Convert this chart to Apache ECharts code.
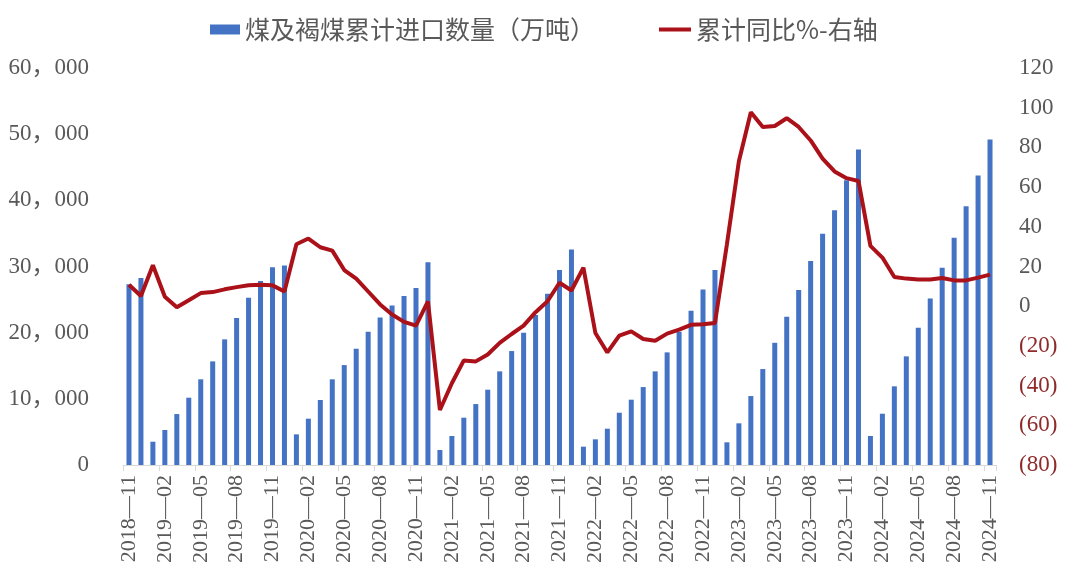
<!DOCTYPE html>
<html>
<head>
<meta charset="utf-8">
<script src="https://cdn.jsdelivr.net/npm/echarts@6/dist/echarts.min.js"></script>
<style>
  html, body { margin: 0; padding: 0; background: #fff; }
  #chart { width: 1080px; height: 581px; }
</style>
</head>
<body>
<div id="chart"></div>
<script>
// 月份
const months = [
  '2018-11', '2018-12',
  '2019-01', '2019-02', '2019-03', '2019-04', '2019-05', '2019-06', '2019-07', '2019-08', '2019-09', '2019-10', '2019-11', '2019-12',
  '2020-01', '2020-02', '2020-03', '2020-04', '2020-05', '2020-06', '2020-07', '2020-08', '2020-09', '2020-10', '2020-11', '2020-12',
  '2021-01', '2021-02', '2021-03', '2021-04', '2021-05', '2021-06', '2021-07', '2021-08', '2021-09', '2021-10', '2021-11', '2021-12',
  '2022-01', '2022-02', '2022-03', '2022-04', '2022-05', '2022-06', '2022-07', '2022-08', '2022-09', '2022-10', '2022-11', '2022-12',
  '2023-01', '2023-02', '2023-03', '2023-04', '2023-05', '2023-06', '2023-07', '2023-08', '2023-09', '2023-10', '2023-11', '2023-12',
  '2024-01', '2024-02', '2024-03', '2024-04', '2024-05', '2024-06', '2024-07', '2024-08', '2024-09', '2024-10', '2024-11'
]
// 煤及褐煤累计进口数量（万吨）
const importQty = [
  27300, 28250,
  3520, 5290, 7700, 10170, 12950, 15660, 18990, 22200, 25270, 27800, 29900, 30170,
  4630, 7000, 9820, 12950, 15100, 17570, 20140, 22300, 24120, 25530, 26740, 30660,
  2270, 4380, 7150, 9210, 11380, 14150, 17220, 19990, 22660, 25880, 29460, 32580,
  2770, 3880, 5490, 7900, 9870, 11780, 14150, 17020, 20140, 23310, 26540, 29460,
  3430, 6300, 10420, 14500, 18470, 22400, 26430, 30820, 34940, 38520, 43050, 47690,
  4380, 7750, 11890, 16420, 20740, 25180, 29800, 34340, 39120, 43760, 49200
]
// 累计同比%
const yoyPct = [
  10.8, 5.1,
  20.6, 4.8, -0.5, 3.0, 6.6, 7.1, 8.5, 9.6, 10.6, 10.8, 10.5, 7.4,
  31.2, 34.1, 29.7, 28.0, 18.2, 13.9, 7.4, 0.9, -4.2, -7.9, -9.8, 2.4,
  -52.3, -38.8, -27.3, -27.8, -24.3, -18.5, -14.0, -9.8, -3.0, 2.5, 11.8, 7.9,
  19.4, -13.5, -23.3, -14.8, -12.7, -16.5, -17.4, -13.8, -11.8, -9.4, -9.1, -8.5,
  31.2, 73.0, 97.7, 90.3, 90.8, 94.7, 90.3, 83.5, 74.3, 67.9, 64.5, 63.1,
  30.4, 24.5, 14.7, 13.9, 13.5, 13.5, 14.2, 13.0, 13.0, 14.4, 15.9
]

const numFont = '"Liberation Serif", "Noto Sans CJK SC", serif'
const cjkFont = '"Noto Sans CJK SC", sans-serif'
const textColor = '#595959'
const barColor = '#4472c4'
const lineColor = '#ab1119'

const chart = echarts.init(document.getElementById('chart'))

chart.setOption({
  animation: false,
  backgroundColor: '#fff',
  // 两个图例分开放，折线用细长矩形当图标
  legend: [
    {
      top: 12,
      left: 205,
      itemWidth: 30,
      itemHeight: 10,
      textStyle: { fontFamily: cjkFont, fontSize: 25, color: textColor },
      data: [{ name: '煤及褐煤累计进口数量（万吨）', icon: 'rect' }]
    },
    {
      top: 12,
      left: 654,
      itemWidth: 32,
      itemHeight: 4,
      textStyle: { fontFamily: cjkFont, fontSize: 25, color: textColor },
      data: [{ name: '累计同比%-右轴', icon: 'rect' }]
    }
  ],
  grid: {
    left: 123,
    right: 84,
    top: 68,
    bottom: 116
  },
  xAxis: {
    type: 'category',
    data: months,
    boundaryGap: true,
    axisLine: { lineStyle: { color: '#d9d9d9', width: 1 } },
    axisTick: { show: true, interval: 2, length: 6, lineStyle: { color: '#d9d9d9' } },
    axisLabel: {
      interval: 2,
      rotate: 90,
      margin: 10,
      fontFamily: numFont,
      fontSize: 22,
      color: textColor,
      formatter: v => v.replace('-', '—')
    }
  },
  yAxis: [
    {
      type: 'value',
      min: 0,
      max: 60000,
      interval: 10000,
      splitLine: { show: false },
      axisLine: { show: false },
      axisTick: { show: false },
      axisLabel: {
        margin: 34,
        fontFamily: numFont,
        fontSize: 23,
        color: textColor,
        formatter: v => v === 0 ? '0' : Math.floor(v / 1000) + '，' + String(v % 1000).padStart(3, '0')
      }
    },
    {
      type: 'value',
      min: -80,
      max: 120,
      interval: 20,
      splitLine: { show: false },
      axisLine: { show: false },
      axisTick: { show: false },
      axisLabel: {
        margin: 23,
        fontFamily: numFont,
        fontSize: 23,
        color: textColor,
        formatter: v => v < 0 ? '{neg|(' + Math.abs(v) + ')}' : String(v),
        rich: {
          neg: { fontFamily: numFont, fontSize: 23, color: '#8e2a2a' }
        }
      }
    }
  ],
  series: [
    {
      name: '煤及褐煤累计进口数量（万吨）',
      type: 'bar',
      data: importQty,
      barWidth: 5,
      itemStyle: { color: barColor }
    },
    {
      name: '累计同比%-右轴',
      type: 'line',
      yAxisIndex: 1,
      data: yoyPct,
      symbol: 'none',
      lineStyle: { color: lineColor, width: 4 },
      itemStyle: { color: lineColor }
    }
  ]
})
</script>
</body>
</html>
